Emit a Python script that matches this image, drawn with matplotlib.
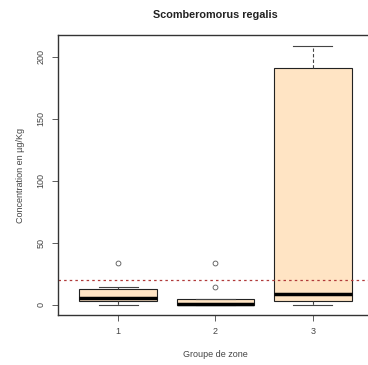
import matplotlib
matplotlib.use("Agg")
from matplotlib import pyplot as plt

plt.rcParams['font.family'] = ['Liberation Sans', 'DejaVu Sans']

groups = ["1", "2", "3"]
q1 = [2.7, 0.0, 2.7]
med = [5.4, 0.4, 8.6]
q3 = [12.4, 5.0, 191.0]
whis_lo = [0.0, 0.0, 0.0]
whis_hi = [14.5, 5.0, 209.0]
outliers = [[33.3], [14.0, 33.3], []]
seuil = 20

stats = []
for i in range(len(groups)):
    stats.append({"label": groups[i], "q1": q1[i], "med": med[i], "q3": q3[i],
                  "whislo": whis_lo[i], "whishi": whis_hi[i], "fliers": outliers[i]})

fig = plt.figure(figsize=(3.68, 3.65), dpi=100)
ax = fig.add_axes([58/368, 50/365, 315/368, 280/365])

ax.bxp(stats, positions=[1, 2, 3], widths=0.8, patch_artist=True,
       boxprops=dict(facecolor="#FFE4C4", edgecolor="#222222", linewidth=0.8),
       medianprops=dict(color="black", linewidth=2.5, solid_capstyle="butt"),
       whiskerprops=dict(color="#444444", linewidth=0.8, linestyle=(0, (3, 2))),
       capprops=dict(color="#444444", linewidth=0.8),
       flierprops=dict(marker="o", markersize=3.5, markerfacecolor="none",
                       markeredgecolor="#555555", markeredgewidth=0.6))
ax.axhline(seuil, color="#b03a3a", linestyle=(0, (2, 2.5)), linewidth=0.9)

ax.set_xlim(0.38, 3.62)
ax.set_ylim(-8.3, 217.5)
ax.set_yticks([0, 50, 100, 150, 200])
ax.set_yticklabels(["0", "50", "100", "150", "200"], rotation=90, va="center")
ax.set_xticks([1, 2, 3])
ax.set_xticklabels(groups)
ax.tick_params(labelsize=6.5, colors="#444444", length=4, width=0.6, pad=5)
for s in ax.spines.values():
    s.set_linewidth(1.0)
    s.set_color("#333333")

ax.set_title("Scomberomorus regalis", fontsize=7.8, fontweight="bold", pad=12, color="#222222")
ax.set_xlabel("Groupe de zone", fontsize=6.5, color="#444444", labelpad=10)
ax.set_ylabel("Concentration en µg/Kg", fontsize=6.5, color="#444444", labelpad=8)

fig.savefig("out.png", dpi=100)
